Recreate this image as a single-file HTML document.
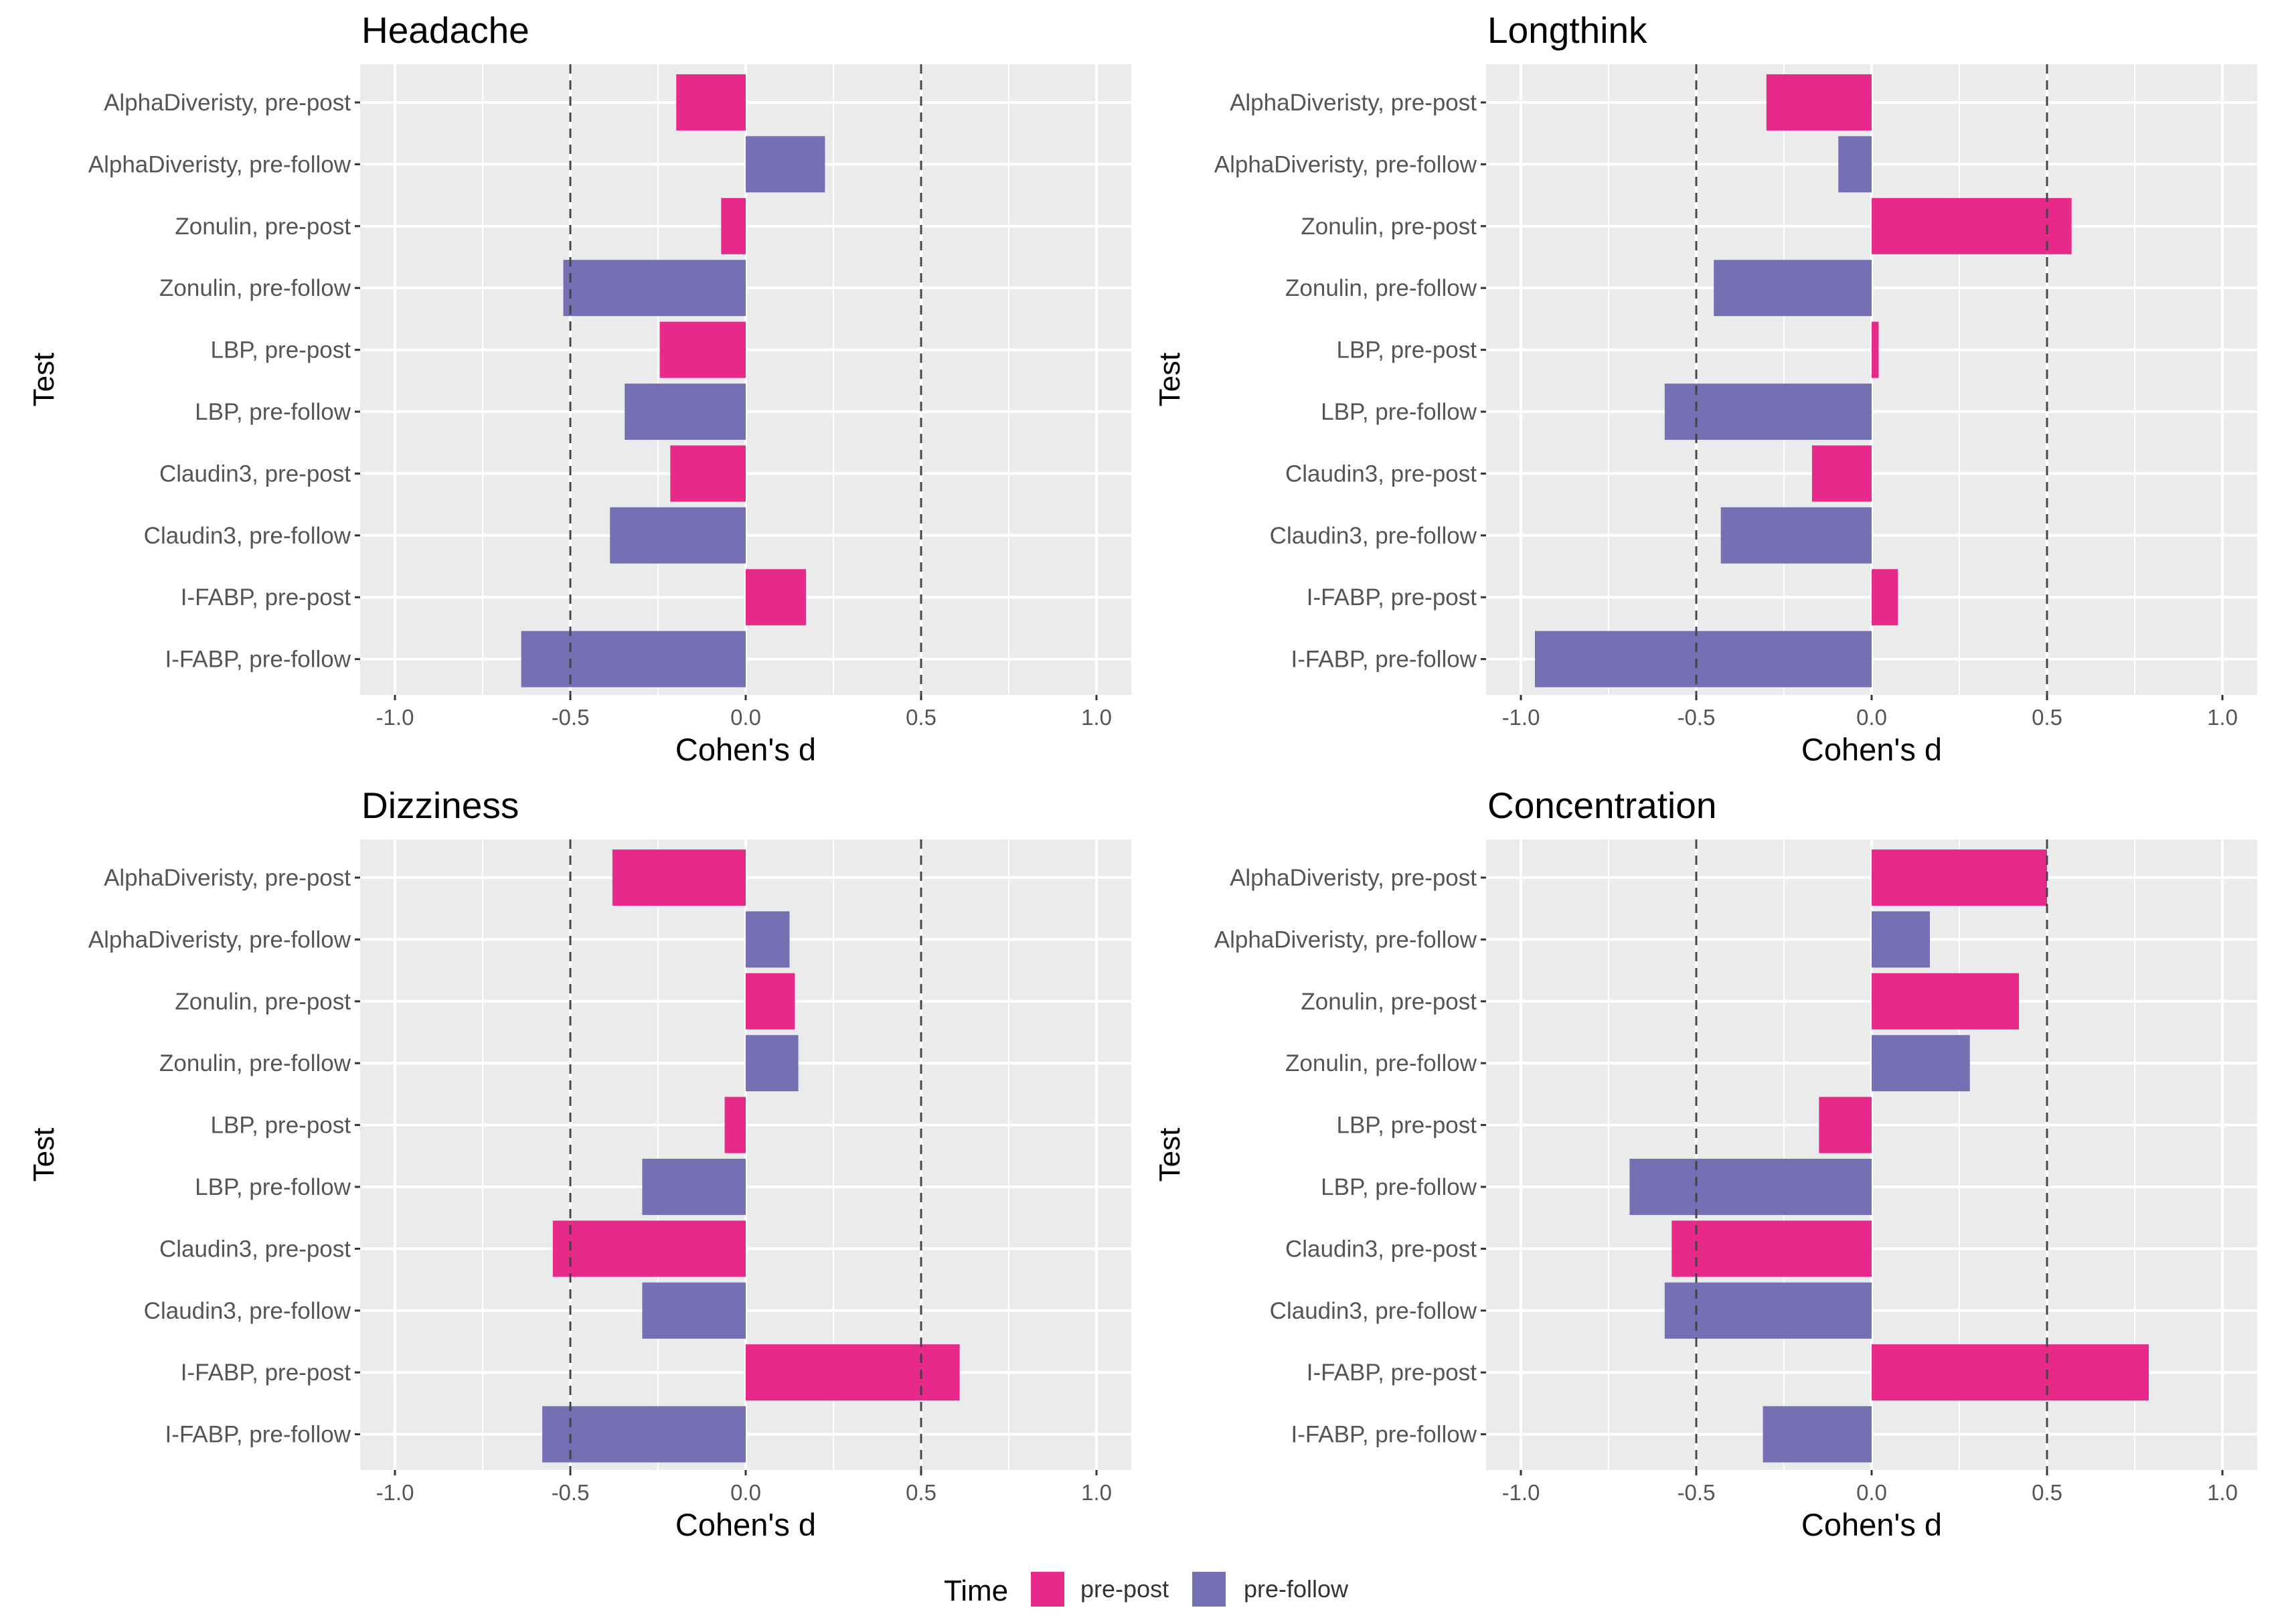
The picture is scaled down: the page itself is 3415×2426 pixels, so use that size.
<!DOCTYPE html>
<html><head><meta charset="utf-8"><style>
html,body{margin:0;padding:0;background:#fff;}
svg{display:block;font-family:"Liberation Sans",sans-serif;}
</style></head><body>
<svg id="chart" width="3415" height="2426" viewBox="0 0 3415 2426" xmlns="http://www.w3.org/2000/svg">
<g id="legend">
<text x="1410" y="2391" font-size="44" fill="#000">Time</text>
<rect x="1540" y="2348" width="50" height="52" fill="#e7298a"/>
<text x="1614" y="2386" font-size="36" fill="#333">pre-post</text>
<rect x="1781" y="2348" width="50" height="52" fill="#7570b3"/>
<text x="1858" y="2386" font-size="36" fill="#333">pre-follow</text>
</g>
</svg>
<script>
const categories = ["AlphaDiveristy, pre-post","AlphaDiveristy, pre-follow","Zonulin, pre-post","Zonulin, pre-follow","LBP, pre-post","LBP, pre-follow","Claudin3, pre-post","Claudin3, pre-follow","I-FABP, pre-post","I-FABP, pre-follow"];
const timeGroup = ["pre-post","pre-follow","pre-post","pre-follow","pre-post","pre-follow","pre-post","pre-follow","pre-post","pre-follow"];
const panelTitles = ["Headache","Longthink","Dizziness","Concentration"];
const headache = [-0.198,0.226,-0.07,-0.52,-0.245,-0.345,-0.215,-0.387,0.172,-0.64];
const longthink = [-0.30,-0.095,0.57,-0.45,0.02,-0.59,-0.17,-0.43,0.075,-0.96];
const dizziness = [-0.38,0.125,0.14,0.15,-0.06,-0.295,-0.55,-0.295,0.61,-0.58];
const concentration = [0.50,0.166,0.42,0.28,-0.15,-0.69,-0.57,-0.59,0.79,-0.31];
const xTicks = [-1.0,-0.5,0.0,0.5,1.0];
const xTickLabels = ["-1.0","-0.5","0.0","0.5","1.0"];
const xMinor = [-0.75,-0.25,0.25,0.75];
const refLines = [-0.5,0.5];

const series = [headache,longthink,dizziness,concentration];
const colors = {"pre-post":"#e7298a","pre-follow":"#7570b3"};
const NS = "http://www.w3.org/2000/svg";
const svg = document.getElementById('chart');
function mk(tag, attrs, parent){const e=document.createElementNS(NS,tag);for(const k in attrs)e.setAttribute(k,attrs[k]);parent.appendChild(e);return e;}

for(let p=0;p<4;p++){
  const ox = (p%2)*1682, oy = Math.floor(p/2)*1158;
  const L=538+ox, R=1690+ox, T=96+oy, B=1038+oy;
  const zero=1114+ox, unit=524;
  const xs = v => zero + v*unit;
  const y0=153+oy, step=92.4, bh=84;
  const ys = i => y0 + i*step;
  const g = mk('g',{},svg);
  
  
  const bg = mk('rect',{x:L,y:T,width:R-L,height:B-T,fill:'#ebebeb'},g);
  
  
  xMinor.forEach(v=>{const l=mk('line',{x1:xs(v),x2:xs(v),y1:T,y2:B,stroke:'#fff','stroke-width':2},g);
    
    });
  xTicks.forEach((v,i)=>{const l=mk('line',{x1:xs(v),x2:xs(v),y1:T,y2:B,stroke:'#fff','stroke-width':4},g);
    
    
    const tk=mk('line',{x1:xs(v),x2:xs(v),y1:B,y2:B+8,stroke:'#333','stroke-width':3},g);
    
    
    const t=mk('text',{x:xs(v),y:B+45,'font-size':33,fill:'#555','text-anchor':'middle'},g);
    t.textContent=xTickLabels[i];
    
    });
  categories.forEach((c,i)=>{
    const l=mk('line',{x1:L,x2:R,y1:ys(i),y2:ys(i),stroke:'#fff','stroke-width':4},g);
    
    
    const tk=mk('line',{x1:L-8,x2:L,y1:ys(i),y2:ys(i),stroke:'#333','stroke-width':3},g);
    
    
    const t=mk('text',{x:L-14,y:ys(i)+12,'font-size':35,fill:'#555','text-anchor':'end'},g);
    t.textContent=c;
    
    
  });
  series[p].forEach((v,i)=>{
    const x1=Math.min(xs(0),xs(v)), w=Math.abs(xs(v)-xs(0));
    const r=mk('rect',{x:x1,y:ys(i)-bh/2,width:Math.max(w,1),height:bh,fill:colors[timeGroup[i]]},g);
    
    
  });
  refLines.forEach(v=>{const l=mk('line',{x1:xs(v),x2:xs(v),y1:T,y2:B,stroke:'#444','stroke-width':3,'stroke-dasharray':'14 10'},g);
    
    });
  const title=mk('text',{x:L+2,y:64+oy,'font-size':55,fill:'#000'},g);
  title.textContent=panelTitles[p];
  
  
  const xt=mk('text',{x:xs(0),y:1136+oy,'font-size':47,fill:'#000','text-anchor':'middle'},g);
  xt.textContent="Cohen's d";
  
  
  const yt=mk('text',{x:0,y:0,'font-size':44,fill:'#000','text-anchor':'middle',transform:`translate(${80+ox},${(T+B)/2}) rotate(-90)`},g);
  yt.textContent="Test";
  
  
}
</script>
</body></html>
